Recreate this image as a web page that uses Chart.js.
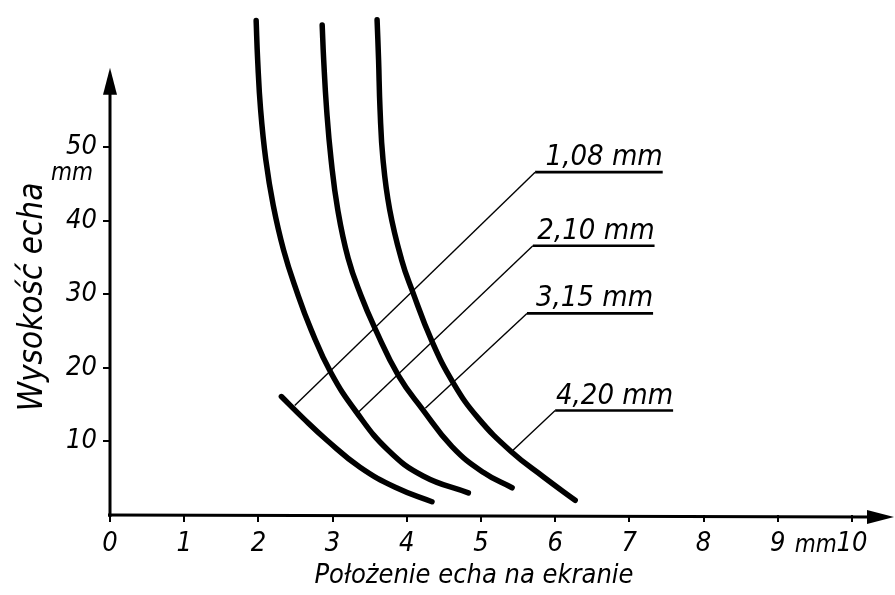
<!DOCTYPE html>
<html><head><meta charset="utf-8">
<script src="https://cdn.jsdelivr.net/npm/chart.js@4/dist/chart.umd.min.js"></script>
<style>html,body{margin:0;padding:0;background:#fff}#wrap{width:895px;height:595px}canvas{display:block}</style>
</head><body><div id="wrap"><canvas id="c" width="895" height="595"></canvas></div>
<script>
// ---- data ----
const xTicks = [0,1,2,3,4,5,6,7,8,9,10];
const yTicks = [10,20,30,40,50];
// curves: [position (mm), echo height (mm)]
const curve108 = [[2.31,16.1],[2.60,13.2],[2.92,10.2],[3.37,6.5],[3.86,3.7],[4.34,1.8]];
const curve210 = [[1.97,67.2],[1.99,61.9],[2.03,55.1],[2.10,48.3],[2.20,42.1],[2.34,36.0],[2.51,30.6],[2.71,25.2],[2.98,19.3],[3.32,14.0],[3.75,8.8],[4.22,5.3],[4.83,3.0]];
const curve315 = [[2.86,66.6],[2.88,61.9],[2.92,55.1],[2.98,48.3],[3.07,41.5],[3.21,34.9],[3.38,29.9],[3.57,25.4],[3.89,18.9],[4.21,14.4],[4.61,9.3],[5.03,5.8],[5.42,3.7]];
const curve420 = [[3.60,67.3],[3.62,61.9],[3.64,55.1],[3.68,48.3],[3.77,41.5],[3.93,34.7],[4.07,30.6],[4.34,23.6],[4.63,17.9],[4.96,13.2],[5.41,8.6],[5.84,5.2],[6.27,2.0]];
const curveLabels = ['1,08 mm','2,10 mm','3,15 mm','4,20 mm'];
// leader lines: point on curve -> corner -> end of underline
const leaderOnCurve = [[2.49,14.9],[3.34,13.9],[4.25,14.5],[5.41,8.6]];
const leaderCorner  = [[5.73,46.6],[5.70,36.6],[5.62,27.4],[6.00,14.2]];
const leaderEnd     = [[7.45,46.6],[7.34,36.6],[7.32,27.4],[7.59,14.2]];
const xTitle = 'Położenie echa na ekranie';
const yTitle = 'Wysokość echa';
const unitText = 'mm';

const FONT = "'DejaVu Sans Condensed','DejaVu Sans',sans-serif";
const pts = a => a.map(p => ({x:p[0], y:p[1]}));

const datasets = [];
[curve108, curve210, curve315, curve420].forEach((c,i) => datasets.push({
  label: curveLabels[i], data: pts(c), borderColor:'#000', borderWidth:5.5,
  pointRadius:0, tension:0.45, borderCapStyle:'round', borderJoinStyle:'round', fill:false, order:1
}));
leaderOnCurve.forEach((p,i) => datasets.push({
  label:'diag'+i, data: pts([p, leaderCorner[i]]), borderColor:'#000', borderWidth:1.4,
  pointRadius:0, tension:0, fill:false, order:2
}));
leaderCorner.forEach((p,i) => datasets.push({
  label:'under'+i, data: pts([p, leaderEnd[i]]), borderColor:'#000', borderWidth:2.6,
  pointRadius:0, tension:0, fill:false, order:2
}));

const decor = {
  id:'decor',
  afterDraw(chart){
    const ctx = chart.ctx, xs = chart.scales.x, ys = chart.scales.y;
    const x0 = xs.getPixelForValue(0), y0 = ys.getPixelForValue(0);
    ctx.save();
    ctx.strokeStyle = '#000'; ctx.fillStyle = '#000'; ctx.lineWidth = 3;
    // y axis with arrow
    const yTop = ys.getPixelForValue(60.8);
    ctx.beginPath(); ctx.moveTo(x0, y0+2); ctx.lineTo(x0, yTop+20); ctx.stroke();
    ctx.beginPath(); ctx.moveTo(x0, yTop); ctx.lineTo(x0-7, yTop+27); ctx.lineTo(x0+7, yTop+27); ctx.closePath(); ctx.fill();
    // x axis with arrow
    const xRight = xs.right + 5;
    ctx.beginPath(); ctx.moveTo(x0-2, y0); ctx.lineTo(xRight-20, y0+2); ctx.stroke();
    ctx.beginPath(); ctx.moveTo(xRight, y0+2); ctx.lineTo(xRight-27, y0-5); ctx.lineTo(xRight-27, y0+9); ctx.closePath(); ctx.fill();
    // unit labels
    ctx.font = 'italic 24px ' + FONT;
    ctx.textAlign = 'right'; ctx.textBaseline = 'middle';
    ctx.fillText(unitText, xs.left - 17, ys.getPixelForValue(50) + 27);
    ctx.textAlign = 'center';
    ctx.fillText(unitText, (xs.getPixelForValue(9) + xs.getPixelForValue(10))/2 + 1, y0 + 31);
    // curve labels above the underlines
    ctx.font = 'italic 29px ' + FONT;
    ctx.textAlign = 'right'; ctx.textBaseline = 'alphabetic';
    leaderEnd.forEach((p,i) => {
      ctx.fillText(curveLabels[i], xs.getPixelForValue(p[0]), ys.getPixelForValue(p[1]) - 7);
    });
    // axis titles
    ctx.font = 'italic 27px ' + FONT;
    ctx.textAlign = 'center'; ctx.textBaseline = 'middle';
    ctx.fillText(xTitle, 474, 576);
    ctx.font = 'italic 33px ' + FONT;
    ctx.save(); ctx.translate(33, 297); ctx.rotate(-Math.PI/2);
    ctx.fillText(yTitle, 0, 0); ctx.restore();
    ctx.restore();
  }
};

new Chart(document.getElementById('c'), {
  type:'line',
  data:{ datasets },
  options:{
    responsive:false, devicePixelRatio:1, animation:false,
    layout:{ padding:{ top:0, right:6, left:0, bottom:0 } },
    plugins:{ legend:{display:false}, tooltip:{enabled:false} },
    scales:{
      x:{ type:'linear', min:0, max:10.5,
        afterBuildTicks: s => { s.ticks = xTicks.map(v => ({value:v})); },
        afterFit: s => { s.height = 80; s.paddingLeft = 0; s.paddingRight = 0; },
        border:{display:false},
        grid:{ display:true, drawOnChartArea:false, drawTicks:true, tickLength:7, color:'#000', lineWidth:2 },
        ticks:{ color:'#000', padding:6, maxRotation:0, autoSkip:false,
          font:{ family:FONT, size:27, style:'italic' } }
      },
      y:{ type:'linear', min:0, max:70,
        afterBuildTicks: s => { s.ticks = yTicks.map(v => ({value:v})); },
        afterFit: s => { s.width = 110; s.paddingTop = 0; s.paddingBottom = 0; },
        border:{display:false},
        grid:{ display:true, drawOnChartArea:false, drawTicks:true, tickLength:7, color:'#000', lineWidth:2 },
        ticks:{ color:'#000', padding:6, autoSkip:false,
          font:{ family:FONT, size:27, style:'italic' } }
      }
    }
  },
  plugins:[decor]
});
</script></body></html>
